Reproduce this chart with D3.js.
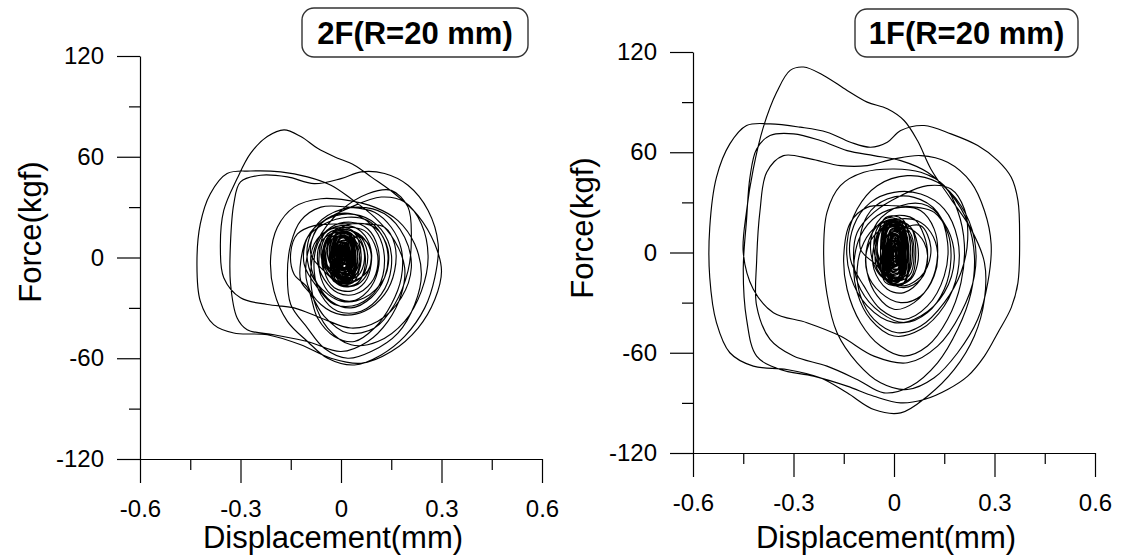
<!DOCTYPE html>
<html>
<head>
<meta charset="utf-8">
<script src="https://cdn.jsdelivr.net/npm/d3@7"></script>
<style>
  html, body { margin: 0; padding: 0; background: #fff; }
  svg { display: block; }
  text { font-family: "Liberation Sans", Arial, Helvetica, sans-serif; fill: #000; }
</style>
</head>
<body>
<svg id="chart" width="1121" height="560"></svg>
<script>
// Axis ticks shared by both panels
const forceTicks = [-120, -60, 0, 60, 120];
const forceMinor = [-90, -30, 30, 90];
const dispTicks = [-0.6, -0.3, 0, 0.3, 0.6];
const dispMinor = [-0.45, -0.15, 0.15, 0.45];

// ---- 2F (R = 20 mm): [displacement (mm), force (kgf)] ----
const build2F = [
  [0,0],[0.02,10],[0.06,12],[0.09,4],[0.08,-8],[0.03,-14],[-0.03,-9],[-0.05,2],[-0.03,13],
  [0.03,20],[0.1,18],[0.14,5],[0.13,-12],[0.07,-24],[0,-26],[-0.07,-16],[-0.1,-2],[-0.09,14],
  [-0.04,25],[0.05,30],[0.13,26],[0.19,12],[0.21,-6],[0.18,-24],[0.11,-38],[0.03,-42],
  [-0.06,-36],[-0.14,-30],[-0.22,-28]
];
const peak2F = [
  [-0.3,-24],[-0.35,-12],[-0.36,5],[-0.35,28],[-0.31,47],[-0.27,62],[-0.22,72],[-0.17,76],
  [-0.12,72],[-0.07,65],[-0.02,60],[0.04,55],[0.09,48],[0.16,38],[0.23,25],[0.28,8],[0.3,-8],
  [0.28,-25],[0.23,-42],[0.15,-56],[0.06,-63],[-0.03,-60],[-0.12,-52],[-0.22,-46],[-0.32,-45],
  [-0.38,-40],[-0.42,-26],[-0.43,-4],[-0.42,20],[-0.39,38],[-0.34,50],[-0.27,51.5],[-0.18,51],
  [-0.1,48],[-0.03,43],[0.03,35],[0.1,24],[0.16,10],[0.19,-6],[0.18,-22],[0.14,-38],[0.08,-50],
  [0.0,-56],[-0.1,-50],[-0.2,-46],[-0.28,-43],[-0.31,-36],[-0.33,-15],[-0.33,8],[-0.32,32],
  [-0.3,45],[-0.24,49],[-0.16,48],[-0.08,44],[0.0,47],[0.06,51],[0.13,50],[0.2,43],[0.26,28],
  [0.29,8],[0.28,-12],[0.25,-30],[0.19,-47],[0.12,-58],[0.04,-64],[-0.04,-60],[-0.1,-50],
  [-0.16,-38],[-0.2,-20],[-0.21,0],[-0.19,18],[-0.14,30],[-0.06,35],[0.02,34],[0.1,30],
  [0.17,22],[0.22,8],[0.24,-10],[0.22,-28],[0.17,-45],[0.09,-56],[0.02,-60],[-0.05,-54],
  [-0.1,-42],[-0.15,-28],[-0.16,-10],[-0.15,8],[-0.12,22],[-0.06,30],[0.02,30],[0.1,27],
  [0.15,18],[0.18,5],[0.18,-12],[0.15,-28],[0.1,-42],[0.04,-50],[-0.02,-47],[-0.07,-36],
  [-0.1,-18]
];
const decay2F = [
  [-0.14,-10],[-0.15,3],[-0.13,14],[-0.08,19],[0.0,20],[0.08,20],[0.13,18],[0.16,8],[0.16,-8],
  [0.13,-22],[0.07,-32],[0.0,-34],[-0.06,-28],[-0.1,-16],[-0.1,2],[-0.06,20],[0.03,30],
  [0.12,36],[0.19,33],[0.24,20],[0.26,0],[0.24,-20],[0.19,-38],[0.11,-50],[0.03,-52],
  [-0.04,-42],[-0.08,-26],[-0.09,-8],[-0.07,10],[0.0,28],[0.08,38],[0.15,40],[0.2,30],
  [0.21,12],[0.2,-8],[0.16,-28],[0.1,-42],[0.02,-45],[-0.05,-35],[-0.09,-22],
  [-0.12,-14],[-0.12,-2],[-0.1,12],[-0.05,20],[0.02,24],[0.08,22],
  [0.12,14],[0.14,2],[0.13,-12],[0.09,-24],[0.03,-30],[-0.03,-26],[-0.07,-16],[-0.09,-4],
  [-0.08,8],[-0.04,16],[0.02,18],[0.07,16],[0.1,8],[0.11,-4],[0.09,-15],[0.04,-22],
  [-0.01,-21],[-0.05,-13],[-0.07,-2],[-0.06,9],[-0.02,15],[0.03,16],[0.07,11],[0.09,2],
  [0.08,-9],[0.05,-16],[0.0,-17],[-0.04,-10]
];
const mid2F = [
  [-0.09,2],[-0.07,18],[-0.01,26],[0.06,24],[0.11,14],[0.13,-2],[0.11,-18],[0.05,-28],
  [-0.02,-28],[-0.07,-18],[-0.11,-4],[-0.1,12],[-0.05,22],[0.02,26],[0.09,22],[0.14,10],
  [0.15,-6],[0.12,-22],[0.06,-32],[-0.01,-32],[-0.06,-22],[-0.08,-8],[-0.07,8],[-0.03,18],
  [0.03,21],[0.08,17],[0.11,6],[0.11,-8],[0.08,-20],[0.03,-26],[-0.03,-22],[-0.06,-12],
  [-0.065,2],[-0.05,14],[0,19],[0.05,17],[0.085,8],[0.09,-4],[0.07,-15],[0.03,-20],
  [-0.02,-18],[-0.05,-8],[-0.05,6],[-0.03,14],[0.01,17],[0.05,13],[0.07,4],[0.07,-7],
  [0.05,-15],[0.01,-17],[-0.03,-12]
];
const ring2F = [
  [-0.06,2],[-0.04,14],[0.01,17],[0.06,12],[0.08,0],[0.06,-12],[0.01,-15],
  [-0.05,-8],[-0.055,4],[-0.035,13],[0.01,15],[0.055,10],[0.07,-1],[0.05,-11],[0.0,-13],
  [-0.045,-6],[-0.05,5],[-0.03,12],[0.015,14],[0.05,8],[0.06,-2],[0.045,-10],[0.005,-12],
  [-0.04,-5],[-0.045,4],[-0.025,11],[0.01,13],[0.045,8],[0.055,-1],[0.04,-9],[0.0,-11]
];
const core2F = [
  [-0.04,1],[-0.015,17],[0.035,16],[0.06,1],[0.035,-15],[-0.015,-14],
  [-0.045,0],[-0.0225,15],[0.0225,14],[0.045,0],[0.0225,-15],[-0.0225,-14],
  [-0.03,2],[-0.0075,16],[0.0375,15],[0.06,2],[0.0375,-12],[-0.0075,-11],
  [-0.035,-1],[-0.015,14],[0.025,13],[0.045,-1],[0.025,-16],[-0.015,-15],
  [-0.03,1],[-0.01,14],[0.03,13],[0.05,1],[0.03,-12],[-0.01,-11],
  [-0.035,2],[-0.0175,16],[0.0175,15],[0.035,2],[0.0175,-12],[-0.0175,-11],
  [-0.02,0],[-0.0025,12],[0.0325,11],[0.05,0],[0.0325,-12],[-0.0025,-11],
  [-0.025,-1],[-0.01,12],[0.02,11],[0.035,-1],[0.02,-14],[-0.01,-13],
  [-0.02,2],[-0.005,13],[0.025,12],[0.04,2],[0.025,-9],[-0.005,-8],
  [-0.028,0],[-0.014,12],[0.014,11],[0.028,0],[0.014,-12],[-0.014,-11],
  [-0.013,1],[-0.0005,12],[0.0245,11],[0.037,1],[0.0245,-10],[-0.0005,-9],
  [-0.019,-1],[-0.007,9],[0.017,8.5],[0.029,-1],[0.017,-11],[-0.007,-10],
  [-0.012,2],[-0.001,12],[0.021,11.5],[0.032,2],[0.021,-8],[-0.001,-7.5],
  [-0.02,0],[-0.01,9],[0.01,8.5],[0.02,0],[0.01,-9],[-0.01,-8.5],
  [-0.008,1],[0.002,10],[0.022,9.5],[0.032,1],[0.022,-8],[0.002,-7.5],
  [-0.012,-1],[-0.003,7],[0.015,6.5],[0.024,-1],[0.015,-9],[-0.003,-8.5],
  [-0.006,1],[0.002,9],[0.018,8.5],[0.026,1],[0.018,-7],[0.002,-6.5],
  [-0.011,0],[-0.0035,7],[0.0115,6.5],[0.019,0],[0.0115,-7],[-0.0035,-6.5],
  [-0.003,1],[0.0035,8],[0.0165,7.5],[0.023,1],[0.0165,-6],[0.0035,-5.5],
  [-0.006,0],[0,6],[0.012,5.5],[0.018,0],[0.012,-6],[0,-5.5],
  [-0.002,1],[0.003,6],[0.013,5.5],[0.018,1],[0.013,-4],[0.003,-3.5],
  [-0.003,0],[0.001,4],[0.009,3.8],[0.013,0],[0.009,-4],[0.001,-3.8],
  [0.002,1],[0.005,4],[0.011,3.8],[0.014,1],[0.011,-2],[0.005,-1.8],
  [0.002,0],[0.004,2],[0.008,1.9],[0.01,0],[0.008,-2],[0.004,-1.9]
];
const dense2F = [
  [-0.026,1],[-0.007,15],[0.031,14.3],[0.05,1],[0.031,-13],[-0.007,-12.3],
  [-0.032,-1],[-0.014,12.4],[0.022,11.7],[0.04,-1],[0.022,-14.4],[-0.014,-13.7],
  [-0.025,2],[-0.008,14.8],[0.026,14.2],[0.043,2],[0.026,-10.8],[-0.008,-10.2],
  [-0.031,0],[-0.015,12.2],[0.017,11.6],[0.033,0],[0.017,-12.2],[-0.015,-11.6],
  [-0.019,-2],[-0.004,9.6],[0.026,9],[0.041,-2],[0.026,-13.6],[-0.004,-13],
  [-0.022,1],[-0.008,12],[0.02,11.5],[0.034,1],[0.02,-10],[-0.008,-9.5],
  [-0.014,1],[-0.001,11.4],[0.025,10.9],[0.038,1],[0.025,-9.4],[-0.001,-8.9],
  [-0.02,-1],[-0.008,8.8],[0.016,8.3],[0.028,-1],[0.016,-10.8],[-0.008,-10.3],
  [-0.013,2],[-0.002,11.2],[0.02,10.7],[0.031,2],[0.02,-7.2],[-0.002,-6.7],
  [-0.019,0],[-0.009,8.6],[0.011,8.2],[0.021,0],[0.011,-8.6],[-0.009,-8.2],
  [-0.007,-2],[0.002,6],[0.02,5.6],[0.029,-2],[0.02,-10],[0.002,-9.6],
  [-0.01,1],[-0.002,8.4],[0.014,8],[0.022,1],[0.014,-6.4],[-0.002,-6],
  [-0.002,1],[0.005,7.8],[0.019,7.5],[0.026,1],[0.019,-5.8],[0.005,-5.5],
  [-0.008,-1],[-0.002,5.2],[0.01,4.9],[0.016,-1],[0.01,-7.2],[-0.002,-6.9],
  [-0.001,2],[0.004,7.6],[0.014,7.3],[0.019,2],[0.014,-3.6],[0.004,-3.3],
  [-0.007,0],[-0.003,5],[0.005,4.8],[0.009,0],[0.005,-5],[-0.003,-4.8],
  [0.004,-2],[0.0075,2.4],[0.0145,2.2],[0.018,-2],[0.0145,-6.4],[0.0075,-6.2],
  [0,1],[0.003,4.8],[0.009,4.6],[0.012,1],[0.009,-2.8],[0.003,-2.6],
  [0.003,0],[0.0055,3],[0.0105,2.9],[0.013,0],[0.0105,-3],[0.0055,-2.9],
  [0.001,1],[0.003,3.4],[0.007,3.3],[0.009,1],[0.007,-1.4],[0.003,-1.3]
];

// ---- 1F (R = 20 mm): [displacement (mm), force (kgf)] ----
const build1F = [
  [0,0],[0.03,14],[0.08,16],[0.11,3],[0.09,-12],[0.03,-20],[-0.04,-14],[-0.07,2],[-0.05,18],
  [0.02,28],[0.1,28],[0.16,14],[0.18,-4],[0.15,-24],[0.08,-38],[0,-42],[-0.08,-32],[-0.13,-14],
  [-0.14,6],[-0.11,26],[-0.05,40],[0.04,46],[0.13,42],[0.2,28],[0.24,8],[0.24,-14],[0.2,-36],
  [0.13,-56],[0.04,-66],[-0.06,-62],[-0.16,-50],[-0.26,-42]
];
const peak1F = [
  [-0.36,-36],[-0.42,-22],[-0.45,0],[-0.44,25],[-0.42,50],[-0.39,75],[-0.35,96],[-0.31,109],
  [-0.27,111],[-0.21,106],[-0.14,97],[-0.08,90],[-0.02,86],[0.03,79],[0.07,67],[0.11,50],
  [0.17,32],[0.23,14],[0.27,-6],[0.27,-28],[0.24,-50],[0.18,-70],[0.1,-86],[0.02,-96],
  [-0.06,-94],[-0.14,-84],[-0.22,-75],[-0.32,-70],[-0.42,-68],[-0.49,-60],[-0.53,-42],
  [-0.55,-15],[-0.55,15],[-0.53,45],[-0.49,65],[-0.44,76],[-0.37,77],[-0.28,75],[-0.2,72],
  [-0.13,66],[-0.07,63],[-0.02,66],[0.02,73],[0.09,76],[0.17,71],[0.25,64],[0.31,55],
  [0.35,45],[0.37,31],[0.375,8],[0.37,-18],[0.35,-33],[0.31,-48],[0.27,-62],[0.22,-74],
  [0.16,-82],[0.09,-88],[0.02,-90],[-0.06,-86],[-0.14,-80],[-0.24,-74],[-0.34,-70],
  [-0.41,-62],[-0.44,-40],[-0.45,-10],[-0.44,20],[-0.43,45],[-0.41,62],[-0.37,70],[-0.3,71],
  [-0.22,67],[-0.14,61],[-0.06,58],[0.02,55],[0.1,48],[0.17,35],[0.22,18],[0.24,-2],
  [0.23,-24],[0.19,-46],[0.13,-66],[0.05,-80],[-0.03,-84],[-0.11,-76],[-0.2,-68],[-0.3,-62],
  [-0.37,-52],[-0.41,-32],[-0.41,-5],[-0.4,25],[-0.38,48],[-0.33,58],[-0.25,56],[-0.16,52],
  [-0.08,52],[0.0,56],[0.08,58],[0.16,54],[0.23,42],[0.27,25],[0.29,5],[0.28,-18],[0.25,-40],
  [0.19,-60],[0.12,-75],[0.04,-82],[-0.04,-78],[-0.11,-66],[-0.17,-48],[-0.2,-25],[-0.21,0],
  [-0.2,24],[-0.16,40],[-0.09,48],[0.0,50],[0.08,48],[0.15,40],[0.19,25],[0.21,5],[0.2,-18],
  [0.16,-40],[0.1,-56],[0.03,-62],[-0.04,-56],[-0.1,-42],[-0.14,-22]
];
const decay1F = [
  [-0.15,-2],[-0.13,18],[-0.08,27],[0.0,28],[0.07,27],[0.12,24],[0.16,12],[0.17,-4],[0.15,-22],
  [0.1,-36],[0.03,-42],[-0.04,-36],[-0.1,-22],[-0.12,-6],[-0.11,12],[-0.06,24],[0.02,34],
  [0.1,40],[0.17,38],[0.21,26],[0.22,8],[0.2,-12],[0.15,-30],[0.08,-44],[0.01,-48],[-0.06,-40],
  [-0.1,-26],[-0.11,-10],[-0.09,6],[-0.05,16],[0.01,20],[0.07,19],[0.11,12],[0.13,0],
  [0.12,-14],[0.08,-26],[0.02,-30],[-0.04,-24],[-0.08,-12],[-0.08,2],[-0.05,12],[0.0,16],
  [0.05,14],[0.09,6],[0.1,-5],[0.08,-16],[0.03,-21],[-0.02,-17],[-0.05,-8]
];
const mid1F = [
  [-0.1,2],[-0.08,22],[-0.02,32],[0.06,33],[0.13,24],[0.16,6],[0.15,-14],[0.1,-32],[0.03,-40],
  [-0.04,-34],[-0.09,-20],[-0.13,-4],[-0.12,16],[-0.07,30],[0.0,36],[0.08,35],[0.15,26],
  [0.19,8],[0.19,-12],[0.15,-32],[0.08,-46],[0.0,-50],[-0.07,-40],[-0.11,-24],[-0.12,-8],
  [-0.1,10],[-0.05,22],[0.02,27],[0.08,25],[0.12,14],[0.13,-2],[0.11,-18],[0.06,-30],
  [0.0,-34],[-0.05,-26],[-0.08,-12],[-0.08,4],[-0.05,16],[0.0,22],[0.06,20],[0.09,10],
  [0.1,-3],[0.08,-16],[0.03,-24],[-0.02,-22],[-0.06,-10],[-0.06,4],[-0.04,14],[0.01,18],
  [0.05,15],[0.07,5],[0.07,-7],[0.05,-16],[0.01,-19],[-0.03,-14]
];
const ring1F = [
  [-0.06,2],[-0.045,16],[0.0,20],[0.05,15],[0.065,0],[0.05,-15],[0.0,-19],
  [-0.05,-10],[-0.055,4],[-0.04,15],[0.0,18],[0.045,13],[0.06,-1],[0.045,-14],[0.0,-17],
  [-0.045,-8],[-0.05,5],[-0.035,14],[0.005,17],[0.045,11],[0.055,-2],[0.04,-13],[0.0,-16]
];
const core1F = [
  [-0.05,1],[-0.025,21],[0.025,20],[0.05,1],[0.025,-19],[-0.025,-18],
  [-0.04,0],[-0.0175,19],[0.0275,18],[0.05,0],[0.0275,-19],[-0.0175,-18],
  [-0.05,2],[-0.0275,20],[0.0175,19],[0.04,2],[0.0175,-16],[-0.0275,-15],
  [-0.035,-1],[-0.015,17],[0.025,16],[0.045,-1],[0.025,-19],[-0.015,-18],
  [-0.04,1],[-0.02,17],[0.02,16],[0.04,1],[0.02,-15],[-0.02,-14],
  [-0.04,2],[-0.0225,19],[0.0125,18],[0.03,2],[0.0125,-15],[-0.0225,-14],
  [-0.03,0],[-0.0125,15],[0.0225,14],[0.04,0],[0.0225,-15],[-0.0125,-14],
  [-0.03,-1],[-0.015,15],[0.015,14],[0.03,-1],[0.015,-17],[-0.015,-16],
  [-0.027,2],[-0.012,16],[0.018,15],[0.033,2],[0.018,-12],[-0.012,-11],
  [-0.031,0],[-0.017,15],[0.011,14],[0.025,0],[0.011,-15],[-0.017,-14],
  [-0.021,1],[-0.0085,14],[0.0165,13],[0.029,1],[0.0165,-12],[-0.0085,-11],
  [-0.024,-1],[-0.012,11],[0.012,10.5],[0.024,-1],[0.012,-13],[-0.012,-12],
  [-0.019,2],[-0.008,14],[0.014,13.5],[0.025,2],[0.014,-10],[-0.008,-9.5],
  [-0.022,0],[-0.012,11],[0.008,10.5],[0.018,0],[0.008,-11],[-0.012,-10.5],
  [-0.016,1],[-0.006,12],[0.014,11.5],[0.024,1],[0.014,-10],[-0.006,-9.5],
  [-0.018,-1],[-0.009,9],[0.009,8.5],[0.018,-1],[0.009,-11],[-0.009,-10.5],
  [-0.013,1],[-0.005,10],[0.011,9.5],[0.019,1],[0.011,-8],[-0.005,-7.5],
  [-0.017,0],[-0.0095,8],[0.0055,7.5],[0.013,0],[0.0055,-8],[-0.0095,-7.5],
  [-0.011,1],[-0.0045,9],[0.0085,8.5],[0.015,1],[0.0085,-7],[-0.0045,-6.5],
  [-0.012,0],[-0.006,7],[0.006,6.5],[0.012,0],[0.006,-7],[-0.006,-6.5],
  [-0.008,1],[-0.003,7],[0.007,6.5],[0.012,1],[0.007,-5],[-0.003,-4.5],
  [-0.008,0],[-0.004,5],[0.004,4.8],[0.008,0],[0.004,-5],[-0.004,-4.8],
  [-0.004,1],[-0.001,4.5],[0.005,4.3],[0.008,1],[0.005,-2.5],[-0.001,-2.3],
  [-0.004,0],[-0.002,2],[0.002,1.9],[0.004,0],[0.002,-2],[-0.002,-1.9]
];
const dense1F = [
  [-0.034,1],[-0.015,18.5],[0.023,17.6],[0.042,1],[0.023,-16.5],[-0.015,-15.6],
  [-0.04,-1],[-0.022,15.75],[0.014,14.9],[0.032,-1],[0.014,-17.75],[-0.022,-16.9],
  [-0.032,2],[-0.015,18],[0.019,17.2],[0.036,2],[0.019,-14],[-0.015,-13.2],
  [-0.034,0],[-0.018,15.25],[0.014,14.5],[0.03,0],[0.014,-15.25],[-0.018,-14.5],
  [-0.025,-2],[-0.01,12.5],[0.02,11.8],[0.035,-2],[0.02,-16.5],[-0.01,-15.8],
  [-0.028,1],[-0.014,14.75],[0.014,14.1],[0.028,1],[0.014,-12.75],[-0.014,-12.1],
  [-0.022,1],[-0.009,14],[0.017,13.4],[0.03,1],[0.017,-12],[-0.009,-11.4],
  [-0.028,-1],[-0.016,11.25],[0.008,10.6],[0.02,-1],[0.008,-13.25],[-0.016,-12.6],
  [-0.02,2],[-0.009,13.5],[0.013,12.9],[0.024,2],[0.013,-9.5],[-0.009,-8.9],
  [-0.022,0],[-0.012,10.75],[0.008,10.2],[0.018,0],[0.008,-10.75],[-0.012,-10.2],
  [-0.013,-2],[-0.004,8],[0.014,7.5],[0.023,-2],[0.014,-12],[-0.004,-11.5],
  [-0.016,1],[-0.008,10.25],[0.008,9.8],[0.016,1],[0.008,-8.25],[-0.008,-7.8],
  [-0.01,1],[-0.003,9.5],[0.011,9.1],[0.018,1],[0.011,-7.5],[-0.003,-7.1],
  [-0.016,-1],[-0.01,6.75],[0.002,6.4],[0.008,-1],[0.002,-8.75],[-0.01,-8.4],
  [-0.008,2],[-0.003,9],[0.007,8.6],[0.012,2],[0.007,-5],[-0.003,-4.6],
  [-0.01,0],[-0.006,6.25],[0.002,5.9],[0.006,0],[0.002,-6.25],[-0.006,-5.9],
  [-0.002,-2],[0.0015,3.5],[0.0085,3.2],[0.012,-2],[0.0085,-7.5],[0.0015,-7.2],
  [-0.006,1],[-0.003,5.75],[0.003,5.5],[0.006,1],[0.003,-3.75],[-0.003,-3.5],
  [-0.003,0],[-0.0005,3.75],[0.0045,3.6],[0.007,0],[0.0045,-3.75],[-0.0005,-3.6],
  [-0.004,1],[-0.002,4],[0.002,3.9],[0.004,1],[0.002,-2],[-0.002,-1.9]
];

const panels = [
  { label: "2F(R=20 mm)", data: [build2F, peak2F, decay2F, mid2F, ring2F, core2F, dense2F],
    x0: 140, x1: 542, y0: 459, y1: 56,
    box: { x: 302, y: 8, w: 226, h: 49 }, xTitleX: 333, yTitleY: 232, yTitleX: 41 },
  { label: "1F(R=20 mm)", data: [build1F, peak1F, decay1F, mid1F, ring1F, core1F, dense1F],
    x0: 693, x1: 1095, y0: 453, y1: 52,
    box: { x: 855, y: 9, w: 223, h: 48 }, xTitleX: 886, yTitleY: 228, yTitleX: 593 }
];

const svg = d3.select("#chart");
const fmtDisp = d => d === 0 ? "0" : d.toFixed(1);
const fmtForce = d => String(d);

panels.forEach(p => {
  const x = d3.scaleLinear().domain([-0.6, 0.6]).range([p.x0, p.x1]);
  const y = d3.scaleLinear().domain([-120, 120]).range([p.y0, p.y1]);
  const g = svg.append("g");

  // minor ticks
  g.append("g").attr("transform", `translate(0,${p.y0})`)
    .call(d3.axisBottom(x).tickValues(dispMinor).tickSize(11).tickSizeOuter(0).tickFormat(""))
    .call(s => s.select(".domain").remove());
  g.append("g").attr("transform", `translate(${p.x0},0)`)
    .call(d3.axisLeft(y).tickValues(forceMinor).tickSize(11).tickSizeOuter(0).tickFormat(""))
    .call(s => s.select(".domain").remove());

  // major ticks and labels
  g.append("g").attr("transform", `translate(0,${p.y0})`)
    .call(d3.axisBottom(x).tickValues(dispTicks).tickSize(24).tickPadding(17).tickSizeOuter(0).tickFormat(fmtDisp));
  g.append("g").attr("transform", `translate(${p.x0},0)`)
    .call(d3.axisLeft(y).tickValues(forceTicks).tickSize(23).tickPadding(13).tickSizeOuter(0).tickFormat(fmtForce));

  g.selectAll(".tick line, .domain").attr("stroke", "#000").attr("stroke-width", 1.2);
  g.selectAll(".tick text").attr("font-size", 24)
    .attr("font-family", "Liberation Sans, Arial, sans-serif").attr("fill", "#000");

  // axis titles
  g.append("text")
    .attr("x", p.xTitleX).attr("y", 548)
    .attr("text-anchor", "middle").attr("font-size", 31)
    .text("Displacement(mm)");
  g.append("text")
    .attr("transform", `translate(${p.yTitleX},${p.yTitleY}) rotate(-90)`)
    .attr("text-anchor", "middle").attr("font-size", 31)
    .text("Force(kgf)");

  // hysteresis trace
  const pts = [].concat(...p.data);
  const line = d3.line()
    .x(d => x(d[0])).y(d => y(d[1]))
    .curve(d3.curveCatmullRom.alpha(0.5));
  g.append("path")
    .attr("d", line(pts))
    .attr("fill", "none").attr("stroke", "#000").attr("stroke-width", 1.15)
    .attr("stroke-linejoin", "round");

  // specimen label box
  g.append("rect")
    .attr("x", p.box.x).attr("y", p.box.y).attr("width", p.box.w).attr("height", p.box.h)
    .attr("rx", 12).attr("ry", 12)
    .attr("fill", "#fff").attr("stroke", "#333").attr("stroke-width", 1.4);
  g.append("text")
    .attr("x", p.box.x + p.box.w / 2).attr("y", p.box.y + p.box.h / 2 + 11)
    .attr("text-anchor", "middle").attr("font-size", 31).attr("font-weight", "bold")
    .text(p.label);
});
</script>
</body>
</html>
